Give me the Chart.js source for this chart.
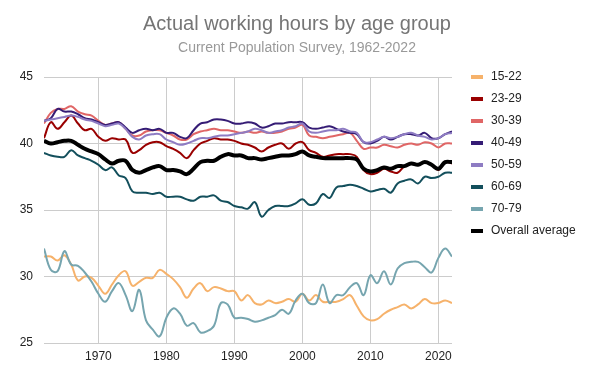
<!DOCTYPE html>
<html>
<head>
<meta charset="utf-8">
<script src="https://cdn.jsdelivr.net/npm/chart.js@4.4.0/dist/chart.umd.min.js"></script>
<style>
  html, body { margin: 0; padding: 0; background: #ffffff; }
  #wrap { width: 595px; height: 380px; position: relative; }
</style>
</head>
<body>
<div id="wrap"><canvas id="c" width="595" height="380"></canvas></div>
<script>
const titleText = "Actual working hours by age group";
const subtitleText = "Current Population Survey, 1962-2022";

const years = [1962,1963,1964,1965,1966,1967,1968,1969,1970,1971,1972,1973,1974,1975,1976,1977,1978,1979,1980,1981,1982,1983,1984,1985,1986,1987,1988,1989,1990,1991,1992,1993,1994,1995,1996,1997,1998,1999,2000,2001,2002,2003,2004,2005,2006,2007,2008,2009,2010,2011,2012,2013,2014,2015,2016,2017,2018,2019,2020,2021,2022];

const xTickValues = [1970, 1980, 1990, 2000, 2010, 2020];
const yTickValues = [25, 30, 35, 40, 45];

const seriesNames = ["15-22","23-29","30-39","40-49","50-59","60-69","70-79","Overall average"];
const seriesColors = ["#f6b26b","#990000","#e06666","#351c75","#8e7cc3","#134f5c","#76a5af","#000000"];

const age15_22 = [31.5,31.5,31.2,31.6,30.9,29.7,30.0,29.9,29.3,28.7,29.4,30.1,30.4,29.3,29.6,29.9,29.9,30.5,30.2,29.8,29.2,28.4,29.1,29.5,28.9,29.2,29.1,28.9,28.9,28.2,28.6,28.0,27.9,28.2,28.0,28.1,28.3,28.1,28.7,28.2,28.6,28.1,28.1,28.1,28.3,28.6,27.8,27.0,26.7,26.8,27.2,27.5,27.7,27.9,27.6,27.9,28.3,28.0,28.0,28.2,28.0];
const age23_29 = [40.4,41.6,41.1,41.6,42.1,41.5,41.0,41.1,40.5,40.2,40.4,40.3,40.3,39.3,39.5,39.9,40.1,40.1,39.8,39.6,39.3,38.9,39.5,40.0,40.2,40.4,40.3,40.3,40.2,40.0,39.9,39.7,39.4,39.7,39.9,40.0,39.6,40.0,40.1,39.5,39.3,39.0,39.1,39.2,39.2,39.2,39.0,38.0,37.7,37.8,38.1,37.9,37.8,38.3,38.5,38.4,38.6,38.4,38.0,38.6,38.5];
const age30_39 = [41.5,42.3,42.6,42.6,42.8,42.4,42.2,42.1,41.7,41.4,41.5,41.6,41.1,40.6,40.6,40.9,41.0,41.0,40.8,40.6,40.3,40.3,40.7,40.9,41.0,41.1,41.0,41.0,40.9,40.8,40.9,40.8,40.9,40.8,40.8,40.9,41.1,41.2,41.4,40.6,40.5,40.4,40.5,40.6,40.7,40.8,40.2,39.6,39.7,39.7,39.9,39.8,39.7,39.9,40.0,39.9,40.1,40.0,39.7,40.0,40.0];
const age40_49 = [41.7,41.9,42.6,42.4,42.4,42.2,41.9,41.8,41.6,41.4,41.5,41.6,41.2,40.8,41.0,41.1,41.0,41.1,40.8,40.8,40.5,40.4,41.0,41.5,41.6,41.8,41.8,41.7,41.5,41.5,41.6,41.5,41.2,41.3,41.5,41.5,41.6,41.6,41.6,41.2,41.1,41.2,41.3,41.1,40.9,40.8,40.7,40.1,40.0,40.2,40.5,40.3,40.5,40.7,40.7,40.6,40.8,40.4,40.4,40.7,40.9];
const age50_59 = [41.7,41.8,41.9,42.0,42.1,42.0,41.8,41.7,41.5,41.3,41.4,41.5,41.1,40.5,40.3,40.6,40.7,40.7,40.3,40.1,39.9,40.0,40.2,40.4,40.4,40.5,40.6,40.6,40.7,40.8,40.9,41.1,41.0,40.8,40.9,41.0,41.2,41.3,41.5,40.9,40.8,40.9,41.0,41.0,41.1,40.9,40.8,40.1,40.1,40.3,40.5,40.4,40.5,40.7,40.8,40.6,40.5,40.3,40.4,40.7,40.8];
const age60_69 = [39.3,39.1,39.0,39.0,39.5,39.1,38.9,38.7,38.4,38.0,38.2,37.6,37.4,36.4,36.3,36.3,36.2,36.3,36.0,36.0,36.0,35.8,35.7,36.0,36.0,36.1,35.7,35.6,35.3,35.2,35.1,35.6,34.5,35.0,35.3,35.3,35.3,35.5,35.8,35.4,35.5,36.2,35.9,36.7,36.8,36.9,36.8,36.6,36.4,36.5,36.6,36.3,37.0,37.2,37.3,37.0,37.5,37.4,37.5,37.8,37.8];
const age70_79 = [32.1,30.5,30.4,31.9,30.9,30.8,30.3,29.6,28.7,28.1,28.9,29.5,28.6,27.4,29.0,26.7,26.0,25.5,26.9,27.6,27.2,26.3,26.5,25.8,25.9,26.3,28.0,27.9,26.9,26.9,26.8,26.6,26.7,26.9,27.1,27.5,27.2,28.2,28.7,28.0,28.0,29.4,28.0,28.6,28.6,29.2,29.5,28.6,30.1,29.5,30.4,29.4,30.6,31.0,31.1,31.1,30.7,30.3,31.4,32.1,31.5];
const overallAvg = [40.2,40.0,40.1,40.2,40.2,39.9,39.6,39.4,39.2,38.8,38.5,38.7,38.7,38.0,37.8,38.0,38.2,38.3,38.0,38.0,37.9,37.7,38.1,38.6,38.7,38.7,39.0,39.2,39.1,39.1,38.9,38.9,38.8,38.9,39.0,39.1,39.1,39.2,39.4,39.1,39.0,38.9,38.9,38.9,38.9,38.9,38.8,38.1,37.9,38.0,38.2,38.1,38.3,38.3,38.5,38.4,38.6,38.4,38.1,38.6,38.6];

const seriesValues = [age15_22, age23_29, age30_39, age40_49, age50_59, age60_69, age70_79, overallAvg];

const FONT = "'Liberation Sans', Arial, sans-serif";

const datasets = seriesValues.map((vals, i) => ({
  label: seriesNames[i],
  data: vals.map((v, k) => ({ x: years[k], y: v })),
  borderColor: seriesColors[i],
  backgroundColor: seriesColors[i],
  borderWidth: i === 7 ? 4 : 2,
  pointRadius: 0,
  tension: 0.4,
  fill: false,
  order: seriesValues.length - i
}));

const decorPlugin = {
  id: 'decor',
  afterDraw(chart) {
    const ctx = chart.ctx;
    ctx.save();
    ctx.textAlign = 'center';
    ctx.textBaseline = 'alphabetic';
    ctx.fillStyle = '#757575';
    ctx.font = '20px ' + FONT;
    ctx.fillText(titleText, 297, 30);
    ctx.fillStyle = '#999999';
    ctx.font = '14px ' + FONT;
    ctx.fillText(subtitleText, 297, 52);
    // legend
    ctx.textAlign = 'left';
    ctx.textBaseline = 'middle';
    ctx.font = '12px ' + FONT;
    chart.data.datasets.forEach((ds, i) => {
      const y = 77 + i * 22;
      ctx.fillStyle = ds.borderColor;
      ctx.fillRect(471, y - 2, 12, 4);
      ctx.fillStyle = '#222222';
      ctx.fillText(ds.label, 491, y);
    });
    ctx.restore();
  }
};

new Chart(document.getElementById('c'), {
  type: 'line',
  data: { datasets },
  options: {
    responsive: false,
    animation: false,
    layout: { padding: { left: 0, top: 77, right: 143, bottom: 0 } },
    plugins: {
      legend: { display: false },
      title: { display: false },
      tooltip: { enabled: false }
    },
    scales: {
      x: {
        type: 'linear',
        min: 1962,
        max: 2022,
        afterBuildTicks: s => { s.ticks = xTickValues.map(v => ({ value: v })); },
        afterFit: s => { s.height = 37; },
        grid: { color: '#cccccc', drawTicks: false, lineWidth: 1 },
        border: { display: false },
        ticks: {
          padding: 6,
          maxRotation: 0,
          color: '#222222',
          font: { family: FONT, size: 12 },
          callback: v => String(v)
        }
      },
      y: {
        min: 25,
        max: 45,
        afterBuildTicks: s => { s.ticks = yTickValues.map(v => ({ value: v })); },
        afterFit: s => { s.width = 44; },
        grid: { color: '#cccccc', drawTicks: false, lineWidth: 1 },
        border: { display: false },
        ticks: {
          padding: 11,
          color: '#222222',
          font: { family: FONT, size: 12 }
        }
      }
    }
  },
  plugins: [decorPlugin]
});
</script>
</body>
</html>
